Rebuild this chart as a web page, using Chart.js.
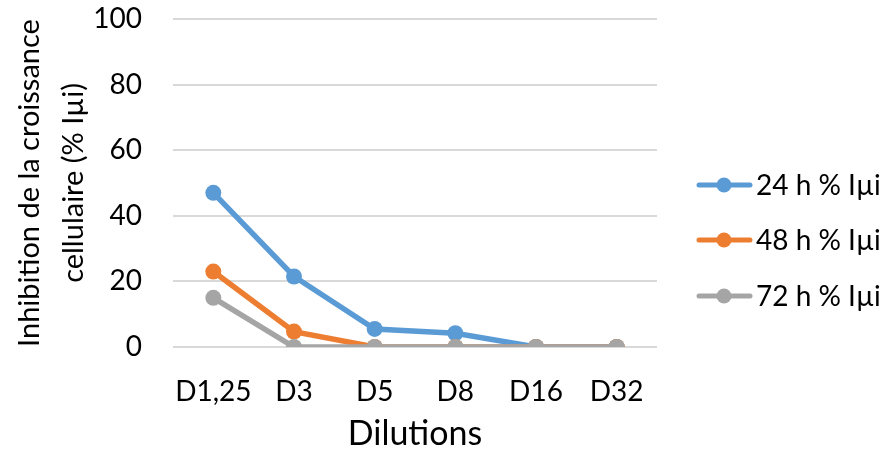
<!DOCTYPE html>
<html>
<head>
<meta charset="utf-8">
<script src="https://cdn.jsdelivr.net/npm/chart.js@4/dist/chart.umd.min.js"></script>
<style>
  html, body { margin: 0; padding: 0; background: #fff; }
  #wrap { width: 888px; height: 458px; }
</style>
</head>
<body>
<div id="wrap"><canvas id="chart" width="888" height="458"></canvas></div>
<script>
// Data
const dilutions = ["D1,25", "D3", "D5", "D8", "D16", "D32"]
const iui24h = [47, 21.5, 5.5, 4.2, 0, 0]
const iui48h = [23, 4.7, 0, 0, 0, 0]
const iui72h = [15, 0, 0, 0, 0, 0]
const seriesNames = ["24 h % Iµi", "48 h % Iµi", "72 h % Iµi"]
const seriesColors = ["#5B9BD5", "#ED7D31", "#A5A5A5"]
const yTicks = [0, 20, 40, 60, 80, 100]

const FONT = "Lato"

// Legend drawn by hand so it sits where the original one does
const sideLegend = {
    id: "sideLegend",
    afterDraw(chart) {
        const ctx = chart.ctx
        const rows = [185, 240, 296]
        ctx.save()
        chart.data.datasets.forEach((ds, i) => {
            const y = rows[i]
            ctx.strokeStyle = ds.borderColor
            ctx.lineWidth = 5
            ctx.lineCap = "round"
            ctx.beginPath()
            ctx.moveTo(699, y)
            ctx.lineTo(750, y)
            ctx.stroke()
            ctx.fillStyle = ds.borderColor
            ctx.beginPath()
            ctx.arc(724, y, 7.5, 0, Math.PI * 2)
            ctx.fill()
            ctx.fillStyle = "#000"
            ctx.font = "28px " + FONT
            ctx.textBaseline = "middle"
            ctx.textAlign = "left"
            ctx.fillText(ds.label, 756, y + 1)
        })
        ctx.restore()
    }
}

// later series are painted over earlier ones, like in the original
const makeSet = (label, data, color, order) => ({
    label: label,
    data: data,
    order: order,
    borderColor: color,
    backgroundColor: color,
    borderWidth: 5.5,
    pointRadius: 8,
    pointHoverRadius: 8,
    pointBorderWidth: 0,
    tension: 0
})

new Chart(document.getElementById("chart"), {
    type: "line",
    data: {
        labels: dilutions,
        datasets: [
            makeSet(seriesNames[0], iui24h, seriesColors[0], 2),
            makeSet(seriesNames[1], iui48h, seriesColors[1], 1),
            makeSet(seriesNames[2], iui72h, seriesColors[2], 0)
        ]
    },
    options: {
        responsive: false,
        animation: false,
        layout: { padding: { left: 0, right: 231, top: 19, bottom: 0 } },
        plugins: {
            legend: { display: false },
            tooltip: { enabled: false }
        },
        scales: {
            x: {
                offset: true,
                grid: { display: false, drawTicks: false },
                border: { display: false },
                ticks: {
                    color: "#000", font: { family: FONT, size: 28 }, padding: 28,
                    autoSkip: false, maxRotation: 0, minRotation: 0
                },
                title: {
                    display: true, text: "Dilutions", color: "#000",
                    font: { family: FONT, size: 34 }, padding: { top: 9 }
                },
                afterFit: s => { s.height = 111; s.paddingTop = 0 }
            },
            y: {
                min: 0, max: 100,
                afterBuildTicks: s => { s.ticks = yTicks.map(v => ({ value: v })) },
                grid: { color: "#D9D9D9", lineWidth: 2, drawTicks: false },
                border: { display: false },
                ticks: { color: "#000", font: { family: FONT, size: 28 }, padding: 31 },
                title: {
                    display: true,
                    text: ["Inhibition de la croissance", "cellulaire (% Iµi)"],
                    color: "#000",
                    font: { family: FONT, size: 29, lineHeight: 1.5 },
                    padding: { top: 8, bottom: 0 }
                },
                afterFit: s => { s.width = 173; s.paddingTop = 0; s.paddingBottom = 0 }
            }
        }
    },
    plugins: [sideLegend]
})
</script>
</body>
</html>
